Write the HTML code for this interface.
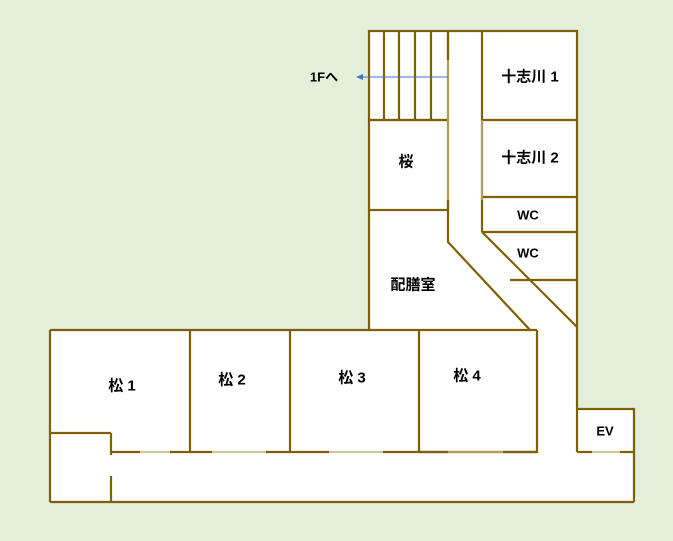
<!DOCTYPE html>
<html><head><meta charset="utf-8"><style>
html,body{margin:0;padding:0;background:#e2efda;}
svg{display:block}
text{font-family:"Liberation Sans","Noto Sans CJK JP",sans-serif;font-weight:bold;font-size:15px;fill:#000;text-anchor:middle;dominant-baseline:central}
</style></head><body>
<svg width="673" height="541" viewBox="0 0 673 541">
<rect x="0" y="0" width="673" height="541" fill="#e2efda"/>
<g fill="#fff" stroke="none">
<rect x="369" y="31" width="208" height="299"/>
<polygon points="448,242 482,232 577,327 577,452 537,452 537,330"/>
<rect x="50" y="330" width="487" height="122"/>
<rect x="50" y="433" width="61" height="69"/>
<rect x="111" y="452" width="523" height="50"/>
<rect x="577" y="409" width="57" height="43"/>
<rect x="537" y="320" width="40" height="135"/>
</g>
<g stroke="#7f6000" stroke-width="2.2" fill="none">
<!-- stairs -->
<rect x="369" y="31" width="79" height="89"/>
<line x1="384" y1="31" x2="384" y2="120"/><line x1="399" y1="31" x2="399" y2="120"/>
<line x1="415" y1="31" x2="415" y2="120"/><line x1="431" y1="31" x2="431" y2="120"/>
<line x1="448" y1="31" x2="482" y2="31"/>
<rect x="369" y="120" width="79" height="90"/>
<line x1="369" y1="210" x2="369" y2="330"/>
<polyline points="448,200 448,242 530,330"/>
<line x1="448" y1="31" x2="448" y2="60"/>
<!-- right rooms -->
<polyline points="482,200 482,31 577,31 577,409"/>
<line x1="482" y1="120" x2="577" y2="120"/>
<line x1="482" y1="197" x2="577" y2="197"/>
<line x1="482" y1="232" x2="577" y2="232"/>
<line x1="482" y1="197" x2="482" y2="232"/>
<line x1="510" y1="280" x2="577" y2="280"/>
<line x1="482" y1="232" x2="577" y2="327"/>
<!-- bottom -->
<line x1="50" y1="330" x2="537" y2="330"/>
<polyline points="537,330 537,452 419,452"/>
<line x1="50" y1="330" x2="50" y2="502"/>
<line x1="50" y1="502" x2="634" y2="502"/>
<polyline points="577,409 634,409 634,502"/>
<line x1="50" y1="433" x2="111" y2="433"/>
<line x1="111" y1="433" x2="111" y2="455"/>
<line x1="111" y1="476" x2="111" y2="502"/>
<line x1="190" y1="330" x2="190" y2="452"/>
<line x1="290" y1="330" x2="290" y2="452"/>
<line x1="419" y1="330" x2="419" y2="452"/>
<line x1="111" y1="452" x2="140" y2="452"/><line x1="170" y1="452" x2="212" y2="452"/>
<line x1="266" y1="452" x2="329" y2="452"/><line x1="383" y1="452" x2="448" y2="452"/>
<line x1="503" y1="452" x2="537" y2="452"/>
<line x1="577" y1="452" x2="592" y2="452"/><line x1="620" y1="452" x2="634" y2="452"/>
<line x1="577" y1="409" x2="577" y2="452"/>
</g>
<g stroke="#c4b27a" stroke-width="1.5">
<line x1="448" y1="60" x2="448" y2="200"/>
<line x1="482" y1="120" x2="482" y2="200"/>
<line x1="140" y1="452" x2="170" y2="452"/><line x1="212" y1="452" x2="266" y2="452"/>
<line x1="329" y1="452" x2="383" y2="452"/><line x1="448" y1="452" x2="503" y2="452"/>
<line x1="592" y1="452" x2="620" y2="452"/>
</g>
<line x1="448" y1="77" x2="362" y2="77" stroke="#4472c4" stroke-width="1"/>
<polygon points="356,77 363,74 363,80" fill="#4472c4"/>
<text x="324" y="77" style="font-size:13px">1Fへ</text>
<text x="530" y="77">十志川 1</text>
<text x="530" y="158">十志川 2</text>
<text x="528" y="215" style="font-size:13px">WC</text>
<text x="528" y="253" style="font-size:13px">WC</text>
<text x="406" y="162">桜</text>
<text x="413" y="285">配膳室</text>
<text x="122" y="386">松 1</text>
<text x="232" y="380">松 2</text>
<text x="352" y="378">松 3</text>
<text x="467" y="376">松 4</text>
<text x="605" y="431" style="font-size:13px">EV</text>
</svg>
</body></html>
